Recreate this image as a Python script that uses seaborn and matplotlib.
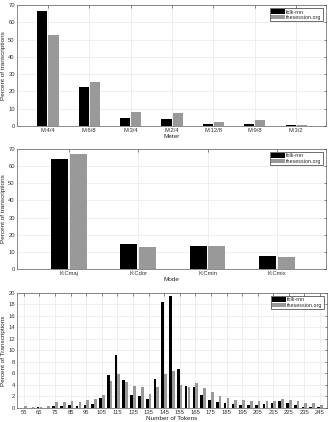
import matplotlib
matplotlib.use('Agg')
from matplotlib import pyplot as plt
import seaborn as sns
import pandas as pd

# meter distribution
meters = ['M:4/4', 'M:6/8', 'M:3/4', 'M:2/4', 'M:12/8', 'M:9/8', 'M:3/2']
meter_folk = [66.5, 22.6, 4.5, 4.2, 1.3, 1.2, 0.5]
meter_session = [52.8, 25.2, 8.2, 7.6, 2.2, 3.6, 0.8]

# mode distribution
modes = ['K:Cmaj', 'K:Cdor', 'K:Cmin', 'K:Cmix']
mode_folk = [64.2, 14.8, 13.6, 7.8]
mode_session = [67.2, 12.7, 13.6, 7.0]

# number of tokens histogram
tokens = list(range(55, 250, 5))
tokens_folk = [0.0, 0.0, 0.1, 0.0, 0.3, 0.3, 0.5, 0.4, 0.6, 0.7,
               1.7, 5.7, 9.3, 4.8, 2.3, 2.1, 1.5, 5.0, 18.4, 19.5,
               6.7, 3.9, 3.6, 2.3, 1.4, 1.0, 0.8, 0.7, 0.6, 0.6,
               0.6, 0.7, 0.9, 1.2, 0.8, 0.5, 0.2, 0.2, 0.1]
tokens_session = [0.3, 0.2, 0.2, 0.4, 1.1, 1.0, 1.2, 1.0, 1.4, 1.6,
                  2.3, 4.7, 5.9, 4.6, 3.9, 3.6, 2.5, 3.6, 5.9, 6.4,
                  4.0, 3.7, 4.4, 3.4, 2.8, 2.0, 1.7, 1.4, 1.4, 1.2,
                  1.3, 1.3, 1.3, 1.6, 1.4, 1.3, 0.9, 0.8, 0.6]

sources = ['folk-rnn', 'thesession.org']
colors = ['black', '#999999']
FS = 4.2


def long_df(cats, a, b, name):
    return pd.DataFrame({
        name: list(cats) + list(cats),
        'pct': list(a) + list(b),
        'source': [sources[0]] * len(cats) + [sources[1]] * len(cats),
    })


def style_axe(axe, xlabel, ylabel, ymax, ystep):
    axe.set_ylim(0, ymax)
    axe.set_yticks(range(0, ymax + 1, ystep))
    axe.set_xlabel(xlabel, size=FS + 0.4, labelpad=0.5)
    axe.set_ylabel(ylabel, size=FS + 0.4, labelpad=1.5)
    axe.grid(True, color='#e3e3e3', linewidth=0.4)
    axe.set_axisbelow(True)
    axe.tick_params(direction='in', length=1.8, width=0.4, labelsize=FS,
                    top=True, right=True, pad=1.5, colors='#333333')
    for s in axe.spines.values():
        s.set_linewidth(0.4)
        s.set_color('#333333')
    h, l = axe.get_legend_handles_labels()
    axe.legend(h, l, loc='upper right', fontsize=FS - 0.3, fancybox=False,
               edgecolor='black', framealpha=1, borderpad=0.2,
               handlelength=2.6, handleheight=0.9, handletextpad=0.3,
               labelspacing=0.05, borderaxespad=0.6).get_frame().set_linewidth(0.4)


sns.set_style('white')
plt.rcParams['font.family'] = ['Liberation Sans', 'DejaVu Sans']
fig = plt.figure(figsize=(3.31, 4.22), dpi=100)

ax1 = fig.add_axes([0.051, 0.7014, 0.934, 0.2866])
sns.barplot(data=long_df(meters, meter_folk, meter_session, 'meter'),
            x='meter', y='pct', hue='source', palette=colors, width=0.54,
            gap=0.1, linewidth=0, ax=ax1)
ax1.set_xlim(-0.75, 6.72)
style_axe(ax1, 'Meter', 'Percent of transcriptions', 70, 10)

ax2 = fig.add_axes([0.051, 0.3626, 0.934, 0.2844])
sns.barplot(data=long_df(modes, mode_folk, mode_session, 'mode'),
            x='mode', y='pct', hue='source', palette=colors, width=0.54,
            gap=0.1, linewidth=0, ax=ax2)
ax2.set_xlim(-0.75, 3.71)
style_axe(ax2, 'Mode', 'Percent of transcriptions', 70, 10)

ax3 = fig.add_axes([0.051, 0.0332, 0.937, 0.2725])
sns.barplot(data=long_df(tokens, tokens_folk, tokens_session, 'tokens'),
            x='tokens', y='pct', hue='source', palette=colors, width=0.72,
            gap=0.05, linewidth=0, native_scale=True, ax=ax3)
ax3.set_xlim(50.5, 249.5)
ax3.set_xticks(range(55, 250, 10))
style_axe(ax3, 'Number of Tokens', 'Percent of Transcriptions', 20, 2)

plt.savefig('out.png', dpi=100)
